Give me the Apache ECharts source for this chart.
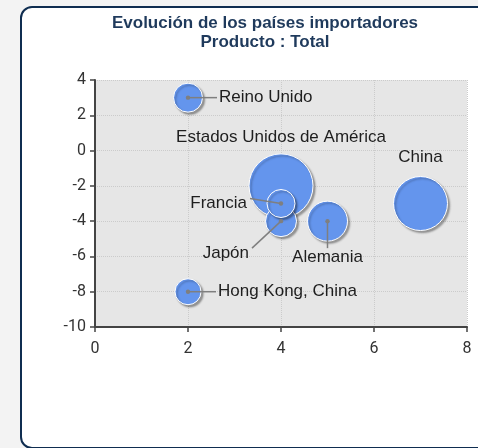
<!DOCTYPE html>
<html><head><meta charset="utf-8">
<script src="https://cdn.jsdelivr.net/npm/echarts@6/dist/echarts.min.js"></script>
<style>
html,body{margin:0;padding:0;background:#f3f3f3;width:478px;height:448px;overflow:hidden;}
#box{position:absolute;left:20px;top:6px;width:480px;height:439px;background:#fff;border:2px solid #0f2d50;border-radius:12px;}
#c{position:absolute;left:0;top:0;width:478px;height:448px;}
</style></head>
<body><div id="box"></div><div id="c"></div>
<script>
const countries = ['Reino Unido','Estados Unidos de América','Japón','Francia','Alemania','China','Hong Kong, China'];
const xValues = [2, 4, 4, 4, 5, 7, 2];
const yValues = [3, -2, -4, -3, -4, -3, -8];
const bubbleSizes = [29, 64, 31, 28, 40, 54, 26];
const xTicks = [0, 2, 4, 6, 8];
const yTicks = [-10, -8, -6, -4, -2, 0, 2, 4];

// label placement (pixel offsets from bubble centre), styling only
const labelStyle = [
  {dx: 31, dy: 0, align: 'left', line: true},
  {dx: 0, dy: -49, align: 'center', line: false},
  {dx: -32, dy: 32, align: 'right', line: true},
  {dx: -34, dy: 0, align: 'right', line: true},
  {dx: 0, dy: 36, align: 'center', line: true},
  {dx: 0, dy: -46, align: 'center', line: false},
  {dx: 30, dy: 0, align: 'left', line: true}
];

const data = countries.map((n, i) => [xValues[i], yValues[i], bubbleSizes[i], n]);
const chart = echarts.init(document.getElementById('c'), null, {renderer: 'canvas'});
const axisFont = {fontFamily: 'Roboto', fontSize: 16, color: '#333'};
chart.setOption({
  animation: false,
  title: {
    text: 'Evolución de los países importadores\nProducto : Total',
    left: 260, top: 9, textAlign: 'center',
    textStyle: {fontFamily: 'Liberation Sans', fontWeight: 'bold', fontSize: 17, color: '#1f3a5c', lineHeight: 19}
  },
  grid: {left: 95, top: 80, right: 11, bottom: 121, show: true, backgroundColor: '#e6e6e6', borderWidth: 0},
  xAxis: {
    type: 'value', min: xTicks[0], max: xTicks[xTicks.length-1], interval: 2,
    axisLine: {show: true, onZero: false, lineStyle: {color: '#444', width: 2}},
    axisTick: {show: true, length: 5, lineStyle: {color: '#444', width: 1.5}},
    axisLabel: Object.assign({margin: 14}, axisFont),
    splitLine: {show: true, lineStyle: {color: '#cbcbcb', type: 'dotted', width: 1}}
  },
  yAxis: {
    type: 'value', min: yTicks[0], max: yTicks[yTicks.length-1], interval: 2,
    axisLine: {show: true, onZero: false, lineStyle: {color: '#444', width: 2}},
    axisTick: {show: true, length: 5, lineStyle: {color: '#444', width: 1.5}},
    axisLabel: Object.assign({margin: 9}, axisFont),
    splitLine: {show: true, lineStyle: {color: '#cbcbcb', type: 'dotted', width: 1}}
  },
  series: [
    {
      type: 'scatter', data: data, z: 2,
      symbolSize: v => v[2],
      itemStyle: {color: '#6495ed', opacity: 1, borderColor: '#ffffff', borderWidth: 1,
        shadowColor: 'rgba(0,0,0,0.35)', shadowBlur: 2, shadowOffsetX: 2, shadowOffsetY: 2}
    },
    {
      type: 'custom', data: data, z: 5, clip: false,
      renderItem: function (params, api) {
        const i = params.dataIndex;
        const p = api.coord([api.value(0), api.value(1)]);
        const s = labelStyle[i];
        const children = [];
        const tx = p[0] + s.dx, ty = p[1] + s.dy;
        if (s.line) {
          let ex = tx, ey = ty;
          if (s.align === 'left') ex = tx - 2;
          else if (s.align === 'right') { ex = tx + 3; ey = ty - 5; }
          else ey = ty - 9;
          children.push({type: 'line', shape: {x1: p[0], y1: p[1], x2: ex, y2: ey},
            style: {stroke: '#7f7f7f', lineWidth: 1.5}});
          children.push({type: 'circle', shape: {cx: p[0], cy: p[1], r: 2.2}, style: {fill: '#7f7f7f'}});
        }
        children.push({type: 'text', x: tx, y: ty,
          style: {text: countries[i], align: s.align, verticalAlign: 'middle',
            fontFamily: 'Liberation Sans', fontSize: 17, fill: '#1e1e1e'}});
        return {type: 'group', children: children};
      }
    }
  ]
});
</script>
</body></html>
